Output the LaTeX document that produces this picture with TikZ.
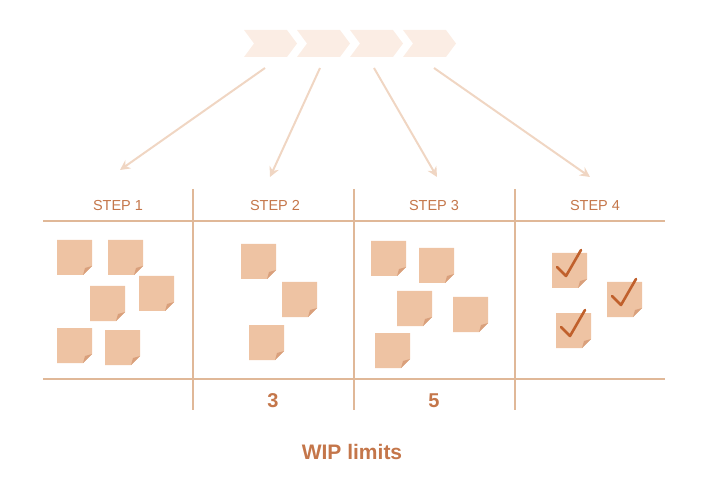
\documentclass[tikz,border=0pt]{standalone}
\usepackage{fontspec}
\setmainfont{Liberation Sans}
\usetikzlibrary{arrows.meta}
\definecolor{note}{HTML}{EEC3A3}
\definecolor{fold}{HTML}{D9A07C}
\definecolor{line}{HTML}{E0B898}
\definecolor{txt}{HTML}{C4764A}
\definecolor{arr}{HTML}{F0D6C3}
\definecolor{chev}{HTML}{FBEDE4}
\definecolor{tick}{HTML}{C0602C}
\begin{document}
\begin{tikzpicture}[x=1pt,y=-1pt,
  grid/.style={draw=line,line width=1.2pt},
  lab/.style={text=txt,font=\fontsize{14.5}{16}\selectfont},
  num/.style={text=txt,font=\bfseries\fontsize{20}{22}\selectfont},
  conn/.style={draw=arr,line width=2pt,-{Stealth[length=10pt,width=10pt]}},
  sticky/.pic={\fill[note] (0,0) -- (35,0) -- (35,26) -- (26,35) -- (0,35) -- cycle;
     \fill[fold] (35,26) -- (26,35) -- (28,28) -- cycle;},
  chk/.pic={\draw[tick,line width=2.6pt,line cap=round,line join=round] (5,14) -- (14,23) -- (29,-3);}]
\useasboundingbox (0,0) rectangle (712,478);
% chevrons
\foreach \i in {0,1,2,3}{
  \fill[chev] ({244+53*\i},30) -- ({287+53*\i},30) -- ({297+53*\i},43.5) -- ({287+53*\i},57) -- ({244+53*\i},57) -- ({254+53*\i},43.5) -- cycle;}
\coordinate (s1) at (265,68); \coordinate (s2) at (320,68);
\coordinate (s3) at (374,68); \coordinate (s4) at (434,68);
\coordinate (e1) at (120,170); \coordinate (e2) at (270,177);
\coordinate (e3) at (437,177); \coordinate (e4) at (590,177);
\foreach \k in {1,2,3,4}{\draw[conn] (s\k) -- (e\k);}
% grid
\draw[grid] (43,221) -- (665,221);
\draw[grid] (43,379) -- (665,379);
\foreach \x in {193,354,515}{\draw[grid] (\x,189) -- (\x,410);}
\node[lab] (l1) at (118,206) {STEP 1};
\node[lab] (l2) at (275,206) {STEP 2};
\node[lab] (l3) at (434,206) {STEP 3};
\node[lab] (l4) at (595,206) {STEP 4};
\node[num] (n3) at (273,401) {3};
\node[num] (n5) at (434,401) {5};
\node[text=txt,font=\bfseries\fontsize{21}{24}\selectfont] (wip) at (352,452) {WIP limits};
% notes
\foreach \p in {(57,240),(108,240),(90,286),(139,276),(57,328),(105,330),
  (241,244),(282,282),(249,325),
  (371,241),(419,248),(397,291),(453,297),(375,333),
  (552,253),(607,282),(556,313)}{\pic at \p {sticky};}
\foreach \p in {(552,253),(607,282),(556,313)}{\pic at \p {chk};}
\end{tikzpicture}
\end{document}
